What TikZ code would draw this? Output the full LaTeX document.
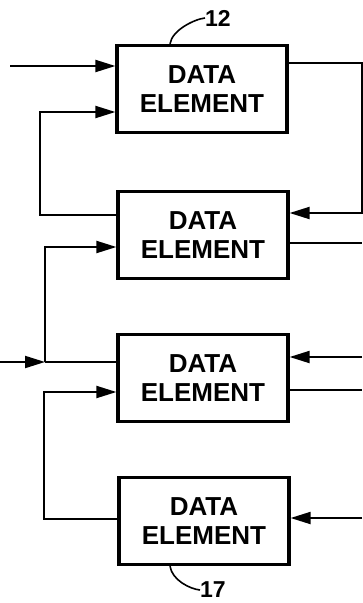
\documentclass[tikz,border=0pt]{standalone}
\usepackage{fontspec}
\setmainfont{Liberation Sans}
\usetikzlibrary{arrows.meta,calc}

\tikzset{
  element/.style={draw, line width=3.2pt, minimum width=170pt, minimum height=87pt,
    inner sep=0pt, align=center, font=\fontsize{26}{29}\selectfont\bfseries},
  link/.style={line width=2pt},
  arr/.style={link, -{Triangle[length=20pt,width=12pt]}},
  refnum/.style={inner sep=0pt, font=\fontsize{23}{23}\selectfont\bfseries},
}

\begin{document}
\begin{tikzpicture}[x=1pt,y=1pt,yscale=-1]
\useasboundingbox (0,0) rectangle (362,603);

% data elements
\node[element] (b1) at (202,89) {DATA\\ELEMENT};
\node[element] (b2) at (203,235) {DATA\\ELEMENT};
\node[element] (b3) at (203,378) {DATA\\ELEMENT};
\node[element] (b4) at (204,521) {DATA\\ELEMENT};

% reference numerals
\node[refnum] (n12) at (218,18) {12};
\node[refnum] (n17) at (213,590) {17};
\draw[line width=1.6pt] ($(b1.north)+(-32,0)$) .. controls +(2,-14) and +(-10,1) .. (n12.west);
\draw[line width=1.6pt] ($(b4.south)+(-34,0)$) .. controls +(2,14) and +(-10,-1) .. (n17.west);

% free ends
\coordinate (in1) at (10,66);
\coordinate (in3) at (0,362);
\coordinate (j3) at (45,362);
\coordinate (out2) at (362,243);
\coordinate (r3in) at (362,357);
\coordinate (out3) at (362,390);
\coordinate (r4in) at (362,518);

% connectors, left side
\draw[arr] (in1) -- (in1 -| b1.west);
\draw[arr] ($(b2.west)+(0,-20)$) -- ++(-76,0) |- ($(b1.west)+(0,23)$);
\draw[arr] (in3) -- (j3);
\draw[link] (j3) -- (j3 -| b3.west);
\draw[arr] (j3) |- ($(b2.west)+(0,12)$);
\draw[arr] ($(b4.west)+(0,-2)$) -- ++(-73,0) |- ($(b3.west)+(0,14)$);

% connectors, right side
\draw[arr] ($(b1.east)+(0,-26)$) -- ++(73,0) |- ($(b2.east)+(0,-22)$);
\draw[link] (out2 -| b2.east) -- (out2);
\draw[arr] (r3in) -- (r3in -| b3.east);
\draw[link] (out3 -| b3.east) -- (out3);
\draw[arr] (r4in) -- (r4in -| b4.east);

\end{tikzpicture}
\end{document}
